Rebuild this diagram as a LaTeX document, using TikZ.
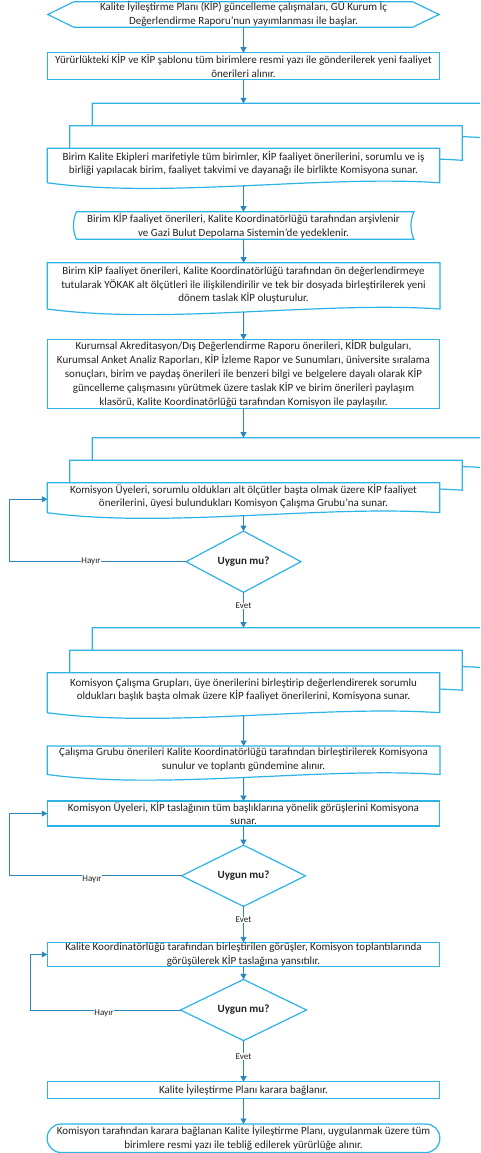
\documentclass[tikz,border=0pt]{standalone}
\usepackage{fontspec}
\setmainfont{Carlito}
\usetikzlibrary{arrows.meta,shapes.geometric}
\definecolor{framec}{HTML}{2DB3E6}
\definecolor{arrc}{HTML}{2A86BD}
\definecolor{txtc}{HTML}{222222}
\tikzset{
  frame/.style={draw=framec, line width=1.2pt, fill=white, line join=miter},
  hit/.style={draw=none, fill=none, rectangle, inner sep=0pt, outer sep=0pt},
  txt/.style={text=txtc, font=\fontsize{11}{13.8}\selectfont, align=center, inner sep=0pt, outer sep=0pt},
  rectbox/.style={frame, rectangle, txt},
  termbox/.style={rectbox, rounded corners=14pt},
  decision/.style={frame, diamond, text=txtc, font=\bfseries\fontsize{11}{13.8}\selectfont, inner sep=0pt, outer sep=0pt},
  arr/.style={draw=arrc, line width=0.9pt, -{Triangle[length=5.5pt,width=6pt]}},
  lbl/.style={text=txtc, font=\fontsize{9}{10}\selectfont, fill=white, inner sep=0.5pt},
}
\newcommand{\docframe}[4]{%
  \draw[frame] ({#1},{#2}) -- ({#3},{#2}) -- ({#3},{#4})
    .. controls ({(#1)+0.7*((#3)-(#1))},{(#4)-8}) and ({(#1)+0.3*((#3)-(#1))},{(#4)+16}) .. ({#1},{#4}) -- cycle;}
\newcommand{\multidocframe}[4]{%
  \docframe{(#1)+45}{(#2)-45}{(#3)+45}{(#4)-45}%
  \docframe{(#1)+22.5}{(#2)-22.5}{(#3)+22.5}{(#4)-22.5}%
  \docframe{#1}{#2}{#3}{#4}}
\begin{document}
\begin{tikzpicture}[x=1pt,y=-1pt]
\useasboundingbox (0,0) rectangle (480,1153);
\clip (0,0) rectangle (480,1153);

% ---------- frames ----------
\draw[frame] (47.7,14.5) -- (74,1.7) -- (412.5,1.7) -- (439,14.5) -- (412.5,27.3) -- (74,27.3) -- cycle;
\multidocframe{47.3}{148.3}{439.8}{182.8}
\draw[frame] (76.5,211.7) -- (414,211.7) .. controls (410,220) and (410,231) .. (414,239.3)
   -- (76.5,239.3) .. controls (72.5,231) and (72.5,220) .. (76.5,211.7) -- cycle;
\docframe{47.3}{262.7}{440}{309}
\multidocframe{47.3}{482.7}{439.8}{512.7}
\multidocframe{47.3}{672.7}{439.8}{712.7}
\docframe{47.3}{746}{440}{774.5}

% ---------- connection areas of drawn shapes ----------
\node[hit, minimum width=391pt, minimum height=25.6pt] (f1) at (243.5,14.5) {};
\node[hit, minimum width=392.5pt, minimum height=34.5pt] (m1b) at (288.55,120.55) {};
\node[hit, minimum width=392.5pt, minimum height=37.5pt] (m1f) at (243.55,167.05) {};
\node[hit, minimum width=392.7pt, minimum height=49.3pt] (d5) at (243.65,287.35) {};
\node[hit, minimum width=392.5pt, minimum height=30pt] (m2b) at (288.55,452.7) {};
\node[hit, minimum width=392.5pt, minimum height=33pt] (m2f) at (243.55,499.2) {};
\node[hit, minimum width=392.5pt, minimum height=40pt] (m3b) at (288.55,647.7) {};
\node[hit, minimum width=392.5pt, minimum height=43pt] (m3f) at (243.55,694.2) {};
\node[hit, minimum width=392.7pt, minimum height=31.5pt] (d8) at (243.65,761.75) {};

% ---------- texts ----------
\node[txt] (t1) at (243.5,14.3) {Kalite İyileştirme Planı (KİP) güncelleme çalışmaları, GÜ Kurum İç\\Değerlendirme Raporu’nun yayımlanması ile başlar.};
\node[rectbox, minimum width=392pt, minimum height=26.6pt] (b2) at (243.5,66) {Yürürlükteki KİP ve KİP şablonu tüm birimlere resmi yazı ile gönderilerek yeni faaliyet\\önerileri alınır.};
\node[txt] (t3) at (243.5,163.5) {Birim Kalite Ekipleri marifetiyle tüm birimler, KİP faaliyet önerilerini, sorumlu ve iş\\birliği yapılacak birim, faaliyet takvimi ve dayanağı ile birlikte Komisyona sunar.};
\node[txt, minimum width=338pt, minimum height=27.6pt] (f4) at (243.5,225.5) {Birim KİP faaliyet önerileri, Kalite Koordinatörlüğü tarafından arşivlenir\\ve Gazi Bulut Depolama Sistemin’de yedeklenir.};
\node[txt] (t5) at (243.5,284.5) {Birim KİP faaliyet önerileri, Kalite Koordinatörlüğü tarafından ön değerlendirmeye\\tutularak YÖKAK alt ölçütleri ile ilişkilendirilir ve tek bir dosyada birleştirilerek yeni\\dönem taslak KİP oluşturulur.};
\node[rectbox, minimum width=392.5pt, minimum height=68.6pt] (b6) at (243.5,374) {Kurumsal Akreditasyon/Dış Değerlendirme Raporu önerileri, KİDR bulguları,\\Kurumsal Anket Analiz Raporları, KİP İzleme Rapor ve Sunumları, üniversite sıralama\\sonuçları, birim ve paydaş önerileri ile benzeri bilgi ve belgelere dayalı olarak KİP\\güncelleme çalışmasını yürütmek üzere taslak KİP ve birim önerileri paylaşım\\klasörü, Kalite Koordinatörlüğü tarafından Komisyon ile paylaşılır.};
\node[txt] (t7) at (243.5,496.5) {Komisyon Üyeleri, sorumlu oldukları alt ölçütler başta olmak üzere KİP faaliyet\\önerilerini, üyesi bulundukları Komisyon Çalışma Grubu’na sunar.};
\node[decision, minimum width=115pt, minimum height=45pt] (dm1) at (243.5,561.7) {Uygun mu?};
\node[txt] (t9) at (243.5,690) {Komisyon Çalışma Grupları, üye önerilerini birleştirip değerlendirerek sorumlu\\oldukları başlık başta olmak üzere KİP faaliyet önerilerini, Komisyona sunar.};
\node[txt] (t10) at (243.5,759.5) {Çalışma Grubu önerileri Kalite Koordinatörlüğü tarafından birleştirilerek Komisyona\\sunulur ve toplantı gündemine alınır.};
\node[rectbox, minimum width=392.5pt, minimum height=25pt] (b9) at (243.5,813.5) {Komisyon Üyeleri, KİP taslağının tüm başlıklarına yönelik görüşlerini Komisyona\\sunar.};
\node[decision, minimum width=124pt, minimum height=45pt] (dm2) at (243.5,875.8) {Uygun mu?};
\node[rectbox, minimum width=392.5pt, minimum height=24.4pt] (b10) at (243.5,954.5) {Kalite Koordinatörlüğü tarafından birleştirilen görüşler, Komisyon toplantılarında\\görüşülerek KİP taslağına yansıtılır.};
\node[decision, minimum width=126pt, minimum height=45.4pt] (dm3) at (243.5,1010) {Uygun mu?};
\node[rectbox, minimum width=392.5pt, minimum height=16.6pt] (b11) at (243.5,1090) {Kalite İyileştirme Planı karara bağlanır.};
\node[termbox, minimum width=392.7pt, minimum height=28.5pt] (b12) at (243.5,1138.25) {Komisyon tarafından karara bağlanan Kalite İyileştirme Planı, uygulanmak üzere tüm\\birimlere resmi yazı ile tebliğ edilerek yürürlüğe alınır.};

% ---------- connectors ----------
\coordinate (lx1) at (9.3,0);
\coordinate (lx3) at (30.7,0);
\draw[arr] (f1.south) -- (b2.north);
\draw[arr] (b2.south) -- (b2.south |- m1b.north);
\draw[arr] (m1f.south) -- (f4.north);
\draw[arr] (f4.south) -- (d5.north);
\draw[arr] (d5.south) -- (b6.north);
\draw[arr] (b6.south) -- (b6.south |- m2b.north);
\draw[arr] (m2f.south) -- (dm1.north);
\draw[arr] (dm1.south) -- (dm1.south |- m3b.north);
\draw[arr] (dm1.west) -- (dm1.west -| lx1) |- (m2f.west);
\draw[arr] (m3f.south) -- (d8.north);
\draw[arr] (d8.south) -- (b9.north);
\draw[arr] (b9.south) -- (dm2.north);
\draw[arr] (dm2.south) -- (b10.north);
\draw[arr] (dm2.west) -- (dm2.west -| lx1) |- (b9.west);
\draw[arr] (b10.south) -- (dm3.north);
\draw[arr] (dm3.south) -- (b11.north);
\draw[arr] (dm3.west) -- (dm3.west -| lx3) |- (b10.west);
\draw[arr] (b11.south) -- (b12.north);

% ---------- connector labels ----------
\node[lbl] (h1) at (91,561.7) {Hayır};
\node[lbl] (e1) at (243.5,606) {Evet};
\node[lbl] (h2) at (92,879) {Hayır};
\node[lbl] (e2) at (243.5,920) {Evet};
\node[lbl] (h3) at (104,1013) {Hayır};
\node[lbl] (e3) at (243.5,1056.7) {Evet};
\end{tikzpicture}
\end{document}
